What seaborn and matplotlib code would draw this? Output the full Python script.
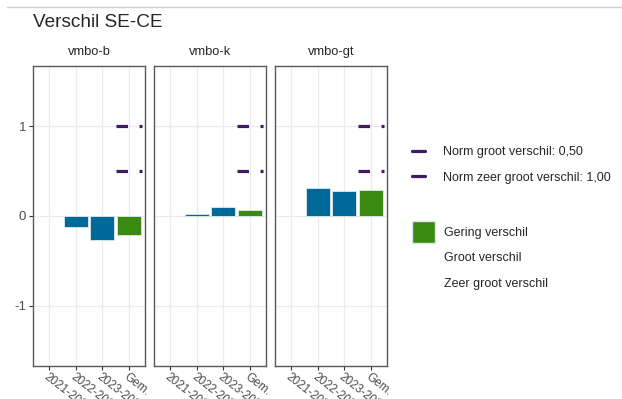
import matplotlib
matplotlib.use("Agg")
import matplotlib.pyplot as plt
from matplotlib.lines import Line2D
from matplotlib.patches import Patch
import pandas as pd
import seaborn as sns

# data
jaren = ["2021-2022", "2022-2023", "2023-2024", "Gem."]
niveaus = ["vmbo-b", "vmbo-k", "vmbo-gt"]
verschil_b = [None, -0.12, -0.27, -0.215]
verschil_k = [None, 0.02, 0.10, 0.07]
verschil_gt = [None, 0.31, 0.28, 0.29]
norm_groot = 0.50
norm_zeer_groot = 1.00

BLAUW = "#00699a"
GROEN = "#3a8a12"
PAARS = "#3f1c5f"

rows = []
for niveau, vals in zip(niveaus, [verschil_b, verschil_k, verschil_gt]):
    for jaar, v in zip(jaren, vals):
        if v is None:
            continue
        rows.append({"niveau": niveau, "jaar": jaar, "verschil": v,
                     "soort": "gem" if jaar == "Gem." else "jaar"})
df = pd.DataFrame(rows)

sns.set_theme(style="whitegrid")
plt.rcParams["font.family"] = ["Liberation Sans", "DejaVu Sans"]
plt.rcParams["lines.scale_dashes"] = False
plt.rcParams["axes.unicode_minus"] = False

W, H = 622, 399
fig = plt.figure(figsize=(W / 100, H / 100), dpi=100)

# thin rule at the top
fig.add_artist(Line2D([7 / W, 1], [1 - 7 / H, 1 - 7 / H], color="#d0d0d0", lw=1))
fig.text(33 / W, 1 - 22.5 / H, "Verschil SE-CE", fontsize=13.7, ha="left", va="center")

lefts = [33, 154, 275]
pw, top, bot = 112, 66, 366
for i, (niveau, left) in enumerate(zip(niveaus, lefts)):
    ax = fig.add_axes([left / W, 1 - bot / H, pw / W, (bot - top) / H])
    sub = df[df["niveau"] == niveau]
    sns.barplot(data=sub, x="jaar", y="verschil", order=jaren, hue="soort",
                palette={"jaar": BLAUW, "gem": GROEN}, dodge=False, width=0.9,
                saturation=1, edgecolor="#dfeaea", linewidth=0.6, legend=False, ax=ax)
    for norm in [norm_groot, norm_zeer_groot]:
        ax.hlines(norm, 2.5, 3.5, colors=PAARS, lw=2.3, linestyles=(0, (8.3, 8.3)))
    ax.set_xlim(-0.6, 3.6)
    ax.set_ylim(-1.667, 1.667)
    ax.set_yticks([-1, 0, 1])
    ax.set_xlabel("")
    ax.set_ylabel("")
    ax.set_title(niveau, fontsize=9.3, pad=8)
    ax.grid(True, color="#ebebeb", lw=0.9)
    ax.set_axisbelow(True)
    for s in ax.spines.values():
        s.set_color("#5a5a5a")
        s.set_linewidth(1.0)
    ax.tick_params(axis="x", direction="out", length=3, width=0.8, color="#333333",
                   labelsize=8.5, labelcolor="#4d4d4d", pad=0.5, bottom=True)
    for lbl in ax.get_xticklabels():
        lbl.set_rotation(-38)
        lbl.set_ha("left")
        lbl.set_va("top")
        lbl.set_rotation_mode("anchor")
    if i == 0:
        ax.tick_params(axis="y", direction="out", length=3, width=0.8, color="#333333",
                       labelsize=9.5, labelcolor="#4d4d4d", pad=2, left=True)
    else:
        ax.tick_params(axis="y", left=False, labelleft=False)

# legends
norm_handles = [Line2D([], [], color=PAARS, lw=2.3),
                Line2D([], [], color=PAARS, lw=2.3)]
leg1 = fig.legend(norm_handles,
                  ["Norm groot verschil: 0,50", "Norm zeer groot verschil: 1,00"],
                  loc="upper left", bbox_to_anchor=(412 / W, 1 - 146 / H),
                  frameon=False, fontsize=9, handlelength=1.0, handletextpad=1.5,
                  labelspacing=1.1, borderpad=0, borderaxespad=0)
fill_handles = [Patch(facecolor=GROEN, edgecolor="#dfeaea"),
                Patch(facecolor="none", edgecolor="none"),
                Patch(facecolor="none", edgecolor="none")]
leg2 = fig.legend(fill_handles, ["Gering verschil", "Groot verschil", "Zeer groot verschil"],
                  loc="upper left", bbox_to_anchor=(412 / W, 1 - 221 / H),
                  frameon=False, fontsize=9, handlelength=1.85, handleheight=2.3,
                  handletextpad=0.75, labelspacing=0.3, borderpad=0, borderaxespad=0)

fig.savefig("out.png", dpi=100)
